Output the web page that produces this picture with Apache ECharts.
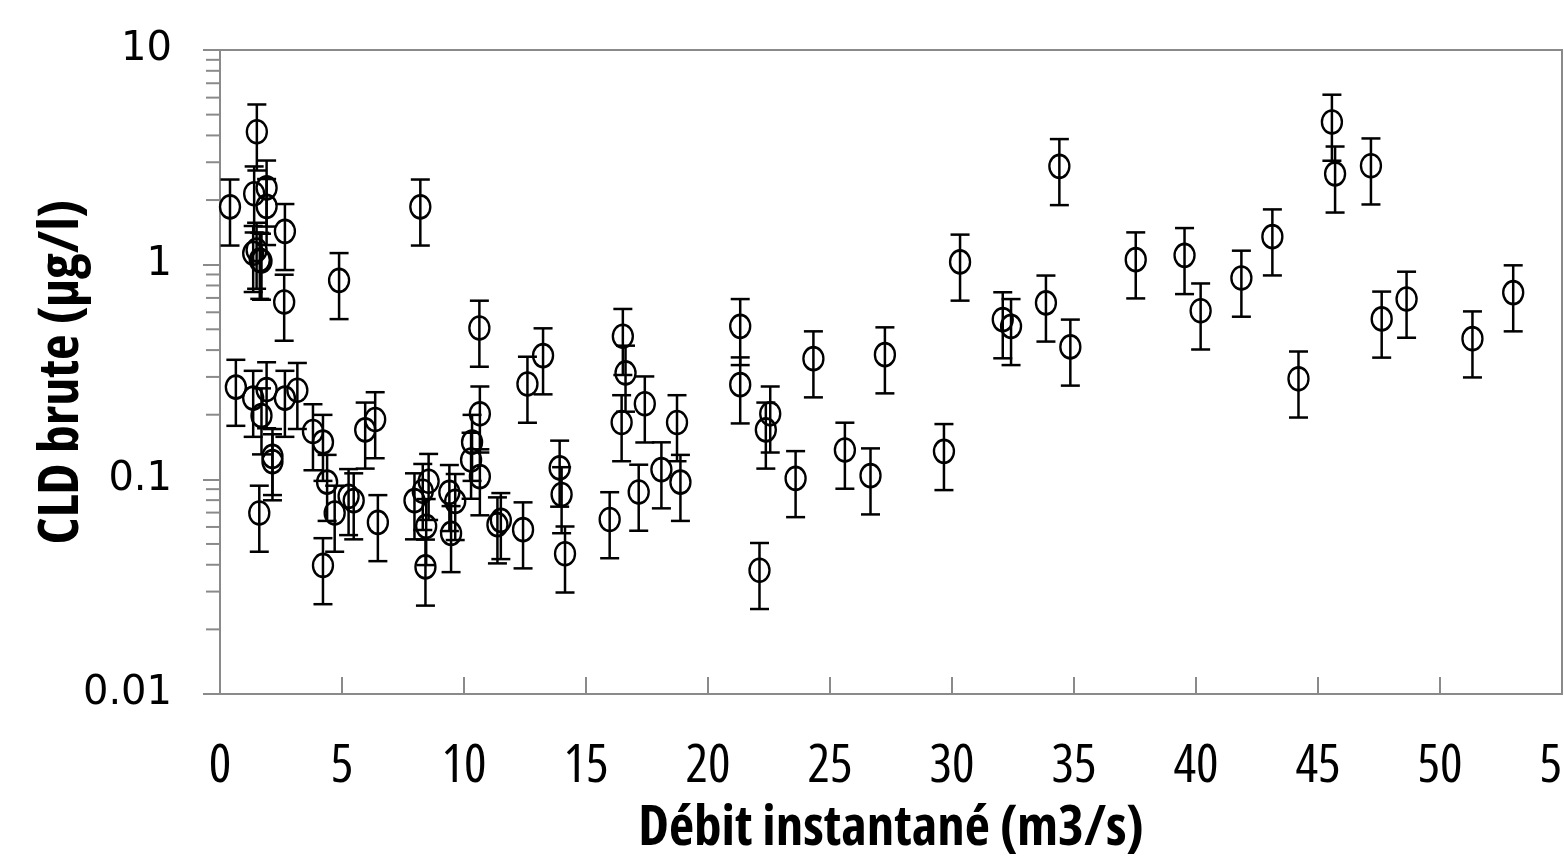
<!DOCTYPE html>
<html>
<head>
<meta charset="utf-8">
<script src="https://cdn.jsdelivr.net/npm/echarts@6/dist/echarts.min.js"></script>
<style>
html,body{margin:0;padding:0;background:#fff;}
#chart{width:1564px;height:863px;}
</style>
</head>
<body>
<div id="chart"></div>
<script>
// Débit instantané (m3/s)
const X_VALUES = [0.41,1.51,1.40,1.91,1.91,2.66,1.36,1.50,1.63,1.70,2.63,4.88,8.21,
  0.65,1.36,1.91,1.70,2.66,3.17,2.15,2.15,1.61,3.81,4.22,4.39,4.70,4.22,5.27,5.48,5.95,6.36,6.47,
  10.63,10.65,10.33,10.29,10.65,12.6,13.24,8.55,7.97,8.31,8.45,8.42,9.40,9.64,9.47,11.37,11.51,12.42,13.92,14.0,14.14,
  16.51,16.62,16.46,17.41,18.73,18.09,18.87,17.16,15.97,21.32,21.32,
  24.32,27.25,22.55,22.37,23.59,25.61,26.66,29.67,22.11,
  34.4,37.53,39.53,40.19,41.86,43.13,44.2,45.57,45.7,47.17,47.61,48.63,
  32.08,32.42,33.85,34.85,30.33,51.33,53.0];
// CLD brute (µg/l)
const Y_VALUES = [1.86,4.16,2.14,2.28,1.87,1.43,1.13,1.17,1.05,1.04,0.67,0.845,1.86,
  0.269,0.239,0.262,0.198,0.239,0.26,0.128,0.121,0.0697,0.167,0.149,0.097,0.0697,0.0397,0.0833,0.0796,0.17,0.19,0.063,
  0.507,0.202,0.149,0.123,0.103,0.278,0.377,0.098,0.0796,0.088,0.0604,0.0391,0.087,0.079,0.056,0.0615,0.0644,0.0583,0.113,0.085,0.045,
  0.464,0.313,0.184,0.225,0.184,0.111,0.097,0.0873,0.065,0.516,0.276,
  0.365,0.381,0.202,0.17,0.101,0.137,0.104,0.135,0.0377,
  2.87,1.055,1.105,0.61,0.867,1.35,0.294,4.62,2.65,2.89,0.559,0.692,
  0.555,0.516,0.664,0.414,1.03,0.452,0.741];
// relative error of each measurement (percentage error bars)
const ERROR_FRACTION = 0.34;
// axis ticks
const X_TICKS = [0,5,10,15,20,25,30,35,40,45,50,55];
const Y_MAJOR_TICKS = [0.01,0.1,1,10];
const Y_MINOR_TICKS = [0.02,0.03,0.04,0.05,0.06,0.07,0.08,0.09,
  0.2,0.3,0.4,0.5,0.6,0.7,0.8,0.9,
  2,3,4,5,6,7,8,9];

const X_NAME = 'Débit instantané (m3/s)';
const Y_NAME = 'CLD brute (µg/l)';

const points = X_VALUES.map((x,i)=>[x, Y_VALUES[i]]);
const errData = X_VALUES.map((x,i)=>[x, Y_VALUES[i]*(1-ERROR_FRACTION), Y_VALUES[i]*(1+ERROR_FRACTION)]);

const AXIS_COLOR = '#8a8a8a';
const COND = '"Open Sans",sans-serif';
const chart = echarts.init(document.getElementById('chart'), null, {renderer:'canvas'});
chart.setOption({
  animation:false,
  backgroundColor:'#fff',
  grid:{left:220,right:2,top:50,bottom:169,show:true,borderColor:AXIS_COLOR,borderWidth:2,backgroundColor:'transparent',
    containLabel:false,outerBoundsMode:'none'},
  xAxis:{
    type:'value',min:X_TICKS[0],max:X_TICKS[X_TICKS.length-1],interval:5,
    name:X_NAME,nameLocation:'middle',nameGap:108,nameMoveOverlap:false,
    nameTextStyle:{fontFamily:COND,fontStyle:'condensed',fontWeight:'bold',fontSize:55,color:'#000'},
    axisLine:{lineStyle:{color:AXIS_COLOR,width:2}},
    axisTick:{inside:true,length:17,lineStyle:{color:AXIS_COLOR,width:2}},
    axisLabel:{margin:46,fontFamily:COND,fontStyle:'condensed',fontSize:53,color:'#000',
      formatter:v=>String(v)},
    splitLine:{show:false}
  },
  yAxis:{
    type:'log',logBase:10,min:Y_MAJOR_TICKS[0],max:Y_MAJOR_TICKS[Y_MAJOR_TICKS.length-1],
    name:Y_NAME,nameLocation:'middle',nameGap:130,nameRotate:90,nameMoveOverlap:false,
    nameTextStyle:{fontFamily:COND,fontStyle:'condensed',fontWeight:'bold',fontSize:56,color:'#000'},
    axisLine:{show:true,lineStyle:{color:AXIS_COLOR,width:2}},
    axisTick:{show:true,length:17,lineStyle:{color:AXIS_COLOR,width:2}},
    axisLabel:{margin:48,fontFamily:'"DejaVu Sans",sans-serif',fontSize:40,color:'#000',
      formatter:v=>{const m=Y_MAJOR_TICKS.find(t=>Math.abs(Math.log10(t)-Math.log10(v))<1e-6);return m!==undefined?String(m):'';}},
    splitLine:{show:false}
  },
  series:[
    {
      type:'custom',name:'minorTicks',clip:false,silent:true,z:1,
      data:Y_MINOR_TICKS.map(v=>[X_TICKS[0],v]),
      encode:{x:0,y:1},
      renderItem:(params,api)=>{
        const p=api.coord([api.value(0),api.value(1)]);
        return {type:'line',shape:{x1:p[0]-14,y1:p[1],x2:p[0],y2:p[1]},style:{stroke:AXIS_COLOR,lineWidth:2}};
      }
    },
    {
      type:'custom',name:'errors',silent:true,z:2,clip:false,
      data:errData,encode:{x:0,y:[1,2]},
      renderItem:(params,api)=>{
        const x=api.value(0);
        const lo=api.coord([x,api.value(1)]);
        const hi=api.coord([x,api.value(2)]);
        const w=9.5;
        const st={stroke:'#000',lineWidth:2.5};
        return {type:'group',children:[
          {type:'line',shape:{x1:lo[0],y1:lo[1],x2:hi[0],y2:hi[1]},style:st},
          {type:'line',shape:{x1:lo[0]-w,y1:lo[1],x2:lo[0]+w,y2:lo[1]},style:st},
          {type:'line',shape:{x1:hi[0]-w,y1:hi[1],x2:hi[0]+w,y2:hi[1]},style:st}
        ]};
      }
    },
    {
      type:'scatter',name:'CLD',z:3,
      data:points,
      symbol:'circle',symbolSize:[20,23],
      itemStyle:{color:'rgba(0,0,0,0)',borderColor:'#000',borderWidth:2.5,opacity:1},
      emphasis:{disabled:true}
    }
  ]
});
</script>
</body>
</html>
